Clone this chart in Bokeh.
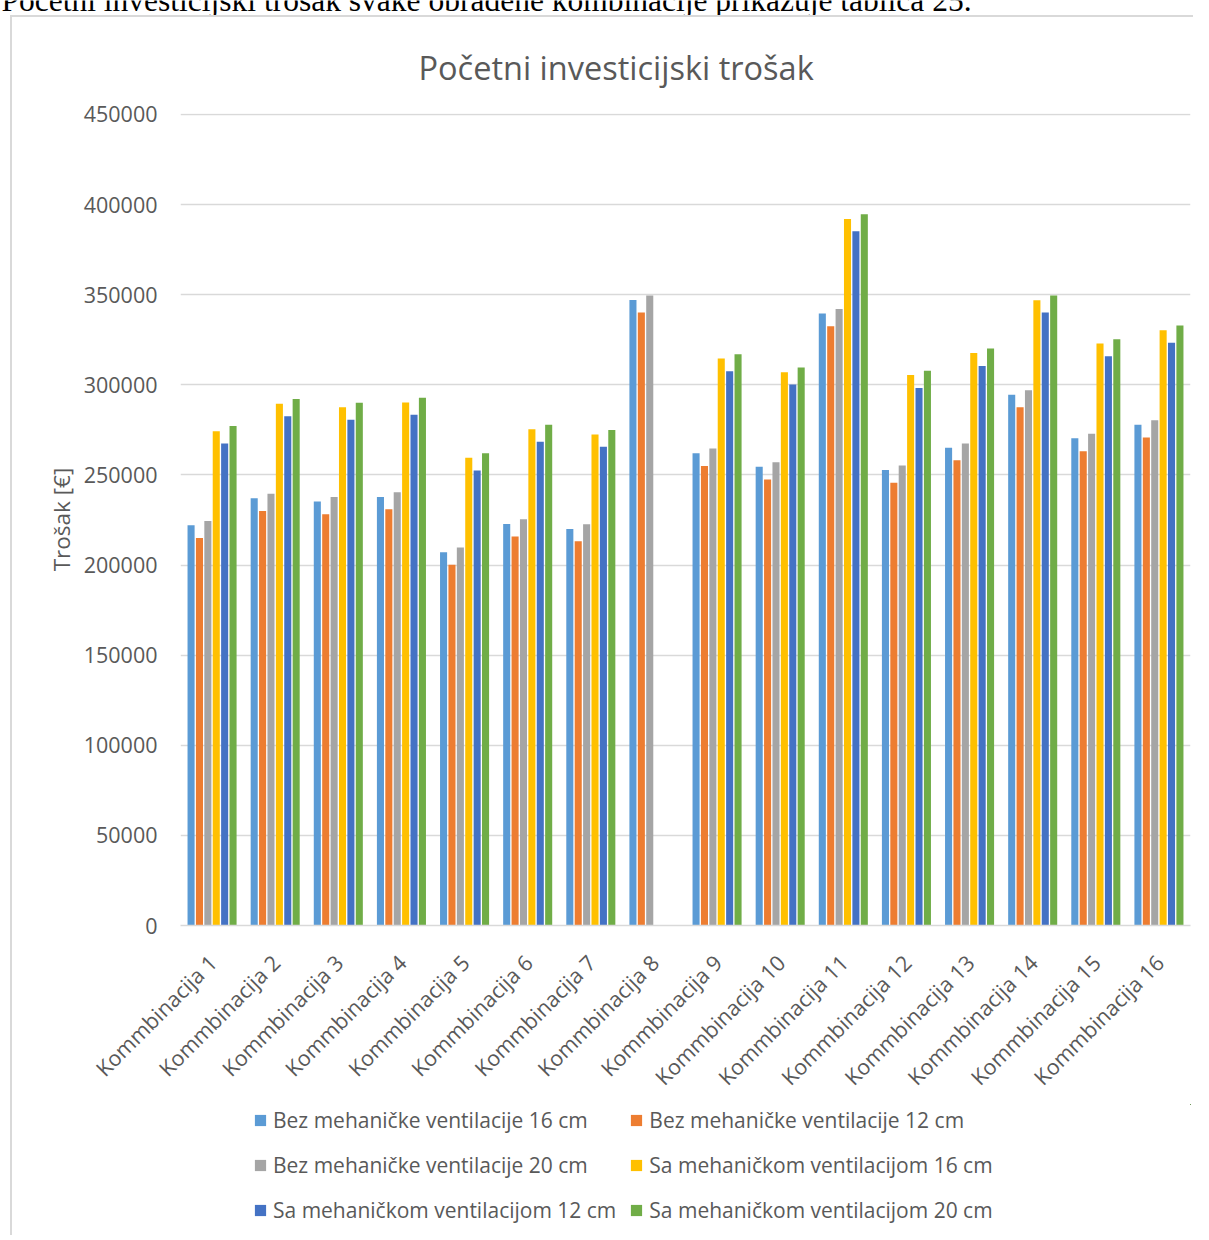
import numpy as np
from math import pi
from bokeh.plotting import figure
from bokeh.layouts import column
from bokeh.models import (ColumnDataSource, Range1d, FixedTicker, LinearAxis,
                          BasicTickFormatter, Legend, LegendItem, Label)
from bokeh.transform import dodge
from bokeh.embed import file_html
from bokeh.resources import INLINE

# ---------------- data ----------------
categories = ["Kommbinacija 1", "Kommbinacija 2", "Kommbinacija 3", "Kommbinacija 4",
              "Kommbinacija 5", "Kommbinacija 6", "Kommbinacija 7", "Kommbinacija 8",
              "Kommbinacija 9", "Kommbinacija 10", "Kommbinacija 11", "Kommbinacija 12",
              "Kommbinacija 13", "Kommbinacija 14", "Kommbinacija 15", "Kommbinacija 16"]

bez_16 = [222100, 237000, 235200, 237800, 207100, 222800, 220000, 347100,
          262100, 254600, 339600, 252700, 265100, 294500, 270300, 277800]
bez_12 = [215000, 230000, 228200, 230900, 200100, 215800, 213200, 340100,
          254900, 247500, 332500, 245700, 258100, 287600, 263200, 270800]
bez_20 = [224400, 239600, 237800, 240400, 209700, 225400, 222600, 349500,
          264700, 257100, 342100, 255300, 267500, 297000, 272800, 280400]
sa_16 = [274300, 289500, 287600, 290200, 259500, 275400, 272500, None,
         314600, 307000, 392000, 305400, 317600, 346900, 322900, 330300]
sa_12 = [267500, 282600, 280600, 283400, 252500, 268400, 265600, None,
         307600, 300200, 385200, 298200, 310500, 340100, 315900, 323300]
sa_20 = [277100, 292100, 290000, 292800, 262100, 277800, 274900, None,
         317000, 309600, 394600, 307800, 320100, 349500, 325300, 332900]

series_names = ["Bez mehaničke ventilacije 16 cm", "Bez mehaničke ventilacije 12 cm",
                "Bez mehaničke ventilacije 20 cm", "Sa mehaničkom ventilacijom 16 cm",
                "Sa mehaničkom ventilacijom 12 cm", "Sa mehaničkom ventilacijom 20 cm"]
series_values = [bez_16, bez_12, bez_20, sa_16, sa_12, sa_20]
colors = ["#5B9BD5", "#ED7D31", "#A5A5A5", "#FFC000", "#4472C4", "#70AD47"]

y_ticks = [0, 50000, 100000, 150000, 200000, 250000, 300000, 350000, 400000, 450000]

title_text = "Početni investicijski trošak"
y_label = "Trošak [€]"
doc_text = "Početni investicijski trošak svake obrađene kombinacije prikazuje tablica 25."

# ---------------- styling ----------------
FONT = "Open Sans"
GREY = "#595959"
GRID = "#d9d9d9"
SLOT = 100            # width of one category slot in x data units

n = len(categories)
data = {"xc": np.arange(n) * SLOT + SLOT / 2}
for i, vals in enumerate(series_values):
    data[f"s{i}"] = np.array([np.nan if v is None else v for v in vals], dtype=float)
source = ColumnDataSource(data)

# ---------------- document line (cut off at the top) ----------------
p_doc = figure(width=1193, height=15, x_range=Range1d(0, 1), y_range=Range1d(0, 1),
               x_axis_type=None, y_axis_type=None, toolbar_location=None,
               output_backend="svg", min_border=0, outline_line_color=None)
p_doc.grid.visible = False
p_doc.add_layout(Label(x=1, y=15, x_units="screen", y_units="screen", text=doc_text,
                       text_font="Liberation Serif", text_font_size="31.5px",
                       text_color="black", text_baseline="alphabetic"))

# ---------------- chart ----------------
ymax = y_ticks[-1] * 813 / 812
p = figure(x_range=Range1d(0, SLOT * n), y_range=Range1d(0, ymax),
           x_axis_location=None,
           width=1181, height=1087, output_backend="svg", toolbar_location=None,
           min_border_left=168, min_border_right=3, min_border_top=96,
           min_border_bottom=179)

p.title.text = title_text
p.title.text_font = FONT
p.title.text_font_size = "32.5px"
p.title.text_font_style = "normal"
p.title.text_color = GREY
p.title.align = "left"
p.title.offset = 238
p.title.standoff = 48

p.outline_line_color = None
p.xgrid.visible = False
p.ygrid.grid_line_color = GRID
p.ygrid.grid_line_width = 1.5

p.yaxis.ticker = FixedTicker(ticks=y_ticks)
p.yaxis.formatter = BasicTickFormatter(use_scientific=False)
p.yaxis.axis_line_color = None
p.yaxis.major_tick_line_color = None
p.yaxis.minor_tick_line_color = None
p.yaxis.major_label_text_font = FONT
p.yaxis.major_label_text_font_size = "21.5px"
p.yaxis.major_label_text_color = GREY
p.yaxis.major_label_standoff = 17
p.yaxis.axis_label = y_label
p.yaxis.axis_label_text_font = FONT
p.yaxis.axis_label_text_font_size = "22.5px"
p.yaxis.axis_label_text_font_style = "normal"
p.yaxis.axis_label_text_color = GREY
p.yaxis.axis_label_standoff = 4

# category axis: one label per category slot
lab_ticks = [SLOT * i + 51 for i in range(n)]
xaxis = LinearAxis(ticker=FixedTicker(ticks=lab_ticks),
                   major_label_overrides={t: c for t, c in zip(lab_ticks, categories)})
xaxis.axis_line_color = GRID
xaxis.axis_line_width = 1.5
xaxis.major_tick_line_color = None
xaxis.minor_tick_line_color = None
xaxis.major_label_orientation = pi / 4
xaxis.major_label_text_font = FONT
xaxis.major_label_text_font_size = "21.5px"
xaxis.major_label_text_color = GREY
xaxis.major_label_standoff = 27
p.add_layout(xaxis, "below")

step = 0.133 * SLOT
bar_w = 0.112 * SLOT
renderers = []
for i, (name, col) in enumerate(zip(series_names, colors)):
    off = (i - 2.5) * step
    r = p.vbar(x=dodge("xc", off), top=f"s{i}", width=bar_w,
               source=source, fill_color=col, line_color=None)
    renderers.append(r)

# ---------------- legend strip ----------------
p_leg = figure(width=1181, height=131, x_range=Range1d(0, 1), y_range=Range1d(0, 1),
               x_axis_type=None, y_axis_type=None, toolbar_location=None,
               output_backend="svg", min_border=0, outline_line_color=None)
p_leg.grid.visible = False
# swatch renderers: same series, zero-height and outside this strip's ranges
leg_renderers = [p_leg.vbar(x="xc", top=f"s{i}", bottom=f"s{i}", width=bar_w,
                            source=source, fill_color=c, line_color=None)
                 for i, c in enumerate(colors)]
legend = Legend(items=[LegendItem(label=nm, renderers=[r])
                       for nm, r in zip(series_names, leg_renderers)],
                orientation="horizontal", ncols=2, location=(73, 9),
                label_text_font=FONT, label_text_font_size="21px", label_text_color=GREY,
                glyph_width=14, glyph_height=14, label_height=32, label_standoff=6,
                spacing=13, border_line_color=None, background_fill_alpha=0,
                margin=0, padding=0)
p_leg.add_layout(legend, "center")

inner = column(p, p_leg, spacing=0,
               styles={"border-left": "2px solid #d9d9d9", "border-top": "2px solid #d9d9d9",
                       "margin-left": "10px"})
layout = column(p_doc, inner, spacing=0)

open("out.html", "w").write(file_html(layout, INLINE))
